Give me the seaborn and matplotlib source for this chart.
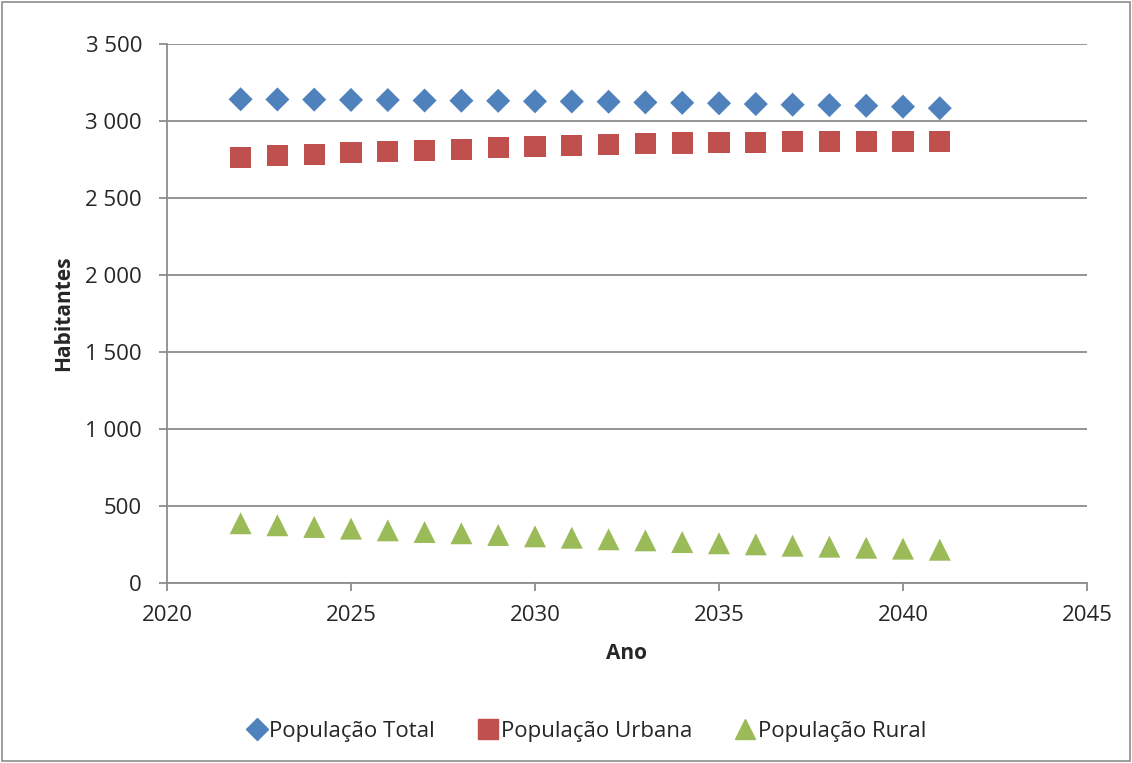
import numpy as np
import pandas as pd
import matplotlib.pyplot as plt
import matplotlib.ticker as mticker
import seaborn as sns

# dados
anos = list(range(2022, 2042))
pop_total = [3141, 3140, 3139, 3137, 3136, 3133, 3132, 3131, 3128, 3127,
             3125, 3121, 3118, 3115, 3110, 3106, 3103, 3099, 3093, 3083]
pop_urbana = [2762, 2773, 2784, 2794, 2801, 2807, 2816, 2825, 2833, 2840,
              2849, 2853, 2857, 2862, 2862, 2866, 2866, 2868, 2868, 2868]
pop_rural = [388, 375, 364, 353, 342, 331, 323, 312, 303, 294,
             284, 277, 266, 258, 251, 242, 236, 229, 223, 216]

series = ['População Total', 'População Urbana', 'População Rural']
cores = {'População Total': '#4F81BD', 'População Urbana': '#C0504D', 'População Rural': '#9BBB59'}
marcadores = {'População Total': 'D', 'População Urbana': 's', 'População Rural': '^'}
tamanhos = {'População Total': 150, 'População Urbana': 230, 'População Rural': 250}

df = pd.DataFrame({
    'Ano': anos * 3,
    'Habitantes': pop_total + pop_urbana + pop_rural,
    'Serie': np.repeat(series, len(anos)),
})

sns.set_style('white')
plt.rcParams['font.family'] = ['Open Sans', 'DejaVu Sans']

fig = plt.figure(figsize=(11.32, 7.63), dpi=100)
ax = fig.add_axes([167 / 1132, 1 - 583 / 763, 920 / 1132, 539 / 763])

sns.scatterplot(data=df, x='Ano', y='Habitantes', hue='Serie', style='Serie', size='Serie',
                hue_order=series, style_order=series, size_order=series,
                palette=cores, markers=marcadores, sizes=tamanhos,
                linewidth=0, ax=ax, legend=False)

ax.set_xlim(2020, 2045)
ax.set_ylim(0, 3500)
ax.set_xticks(range(2020, 2046, 5))
ax.set_yticks(range(0, 3501, 500))
ax.yaxis.set_major_formatter(mticker.FuncFormatter(lambda v, p: f'{int(v):,}'.replace(',', ' ')))
ax.grid(axis='y', color='#8C8C8C', linewidth=1.3)
ax.set_axisbelow(True)
for s in ['top', 'right']:
    ax.spines[s].set_visible(False)
for s in ['left', 'bottom']:
    ax.spines[s].set_color('#8C8C8C')
    ax.spines[s].set_linewidth(1.3)
ax.tick_params(axis='both', labelsize=16, length=6, width=1.3, color='#8C8C8C', direction='out',
               bottom=True, left=True)
ax.tick_params(axis='x', pad=10)
ax.tick_params(axis='y', pad=12)
ax.set_xlabel('Ano', fontsize=15, fontweight='bold', labelpad=12)
ax.set_ylabel('Habitantes', fontsize=15, fontweight='bold', labelpad=8)

handles = [plt.Line2D([], [], linestyle='', marker=marcadores[n], color=cores[n],
                      markersize=11 if n == 'População Total' else 14)
           for n in series]
fig.legend(handles, series, loc='center', bbox_to_anchor=(586 / 1132, 1 - 731 / 763), ncol=3, frameon=False,
           fontsize=16, handletextpad=0.05, columnspacing=1.9, handlelength=1.0)

# moldura externa do gráfico
fig.patches.append(plt.Rectangle((0.002, 0.002), 0.996, 0.996, transform=fig.transFigure,
                                 fill=False, edgecolor='#8C8C8C', linewidth=1.2))

fig.savefig('out.png', dpi=100)
